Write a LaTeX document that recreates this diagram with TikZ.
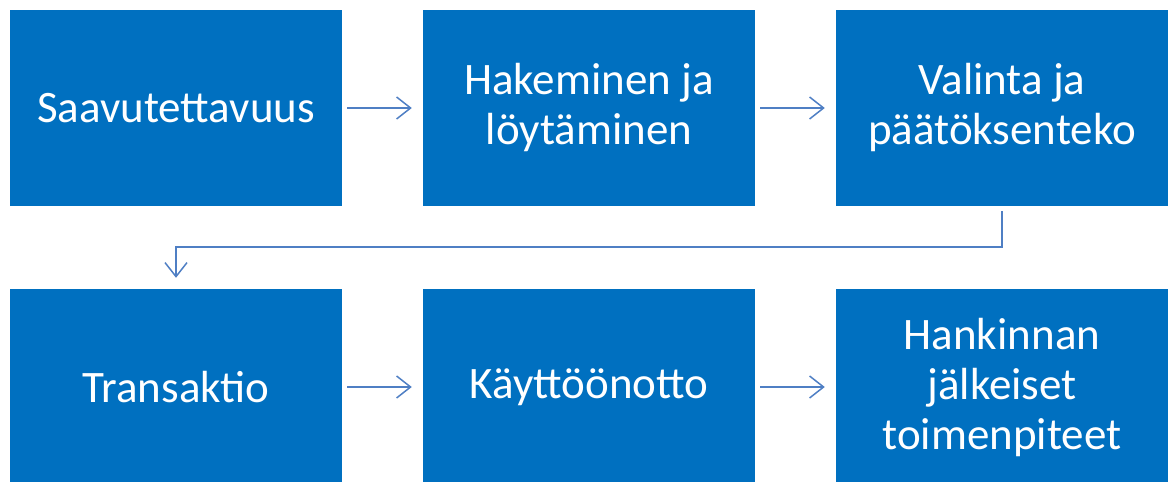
\documentclass[tikz,border=0pt]{standalone}
\usepackage{fontspec}
\setmainfont{Carlito}
\usetikzlibrary{arrows.meta}
\definecolor{boxblue}{HTML}{0070C0}
\definecolor{arrowblue}{HTML}{4F7FC4}
\begin{document}
\begin{tikzpicture}[x=1pt,y=-1pt,
  stepbox/.style={fill=boxblue,draw=none,minimum width=332pt,minimum height=196pt,inner sep=0pt,
    text=white,align=center,font=\fontsize{45pt}{50pt}\selectfont},
  conn/.style={draw=arrowblue,line width=1.5pt,-{Straight Barb[length=14pt,width=22pt,line width=1.5pt]},
    shorten <=5pt,shorten >=11pt}]
\useasboundingbox (0,0) rectangle (1171,482);
\node[stepbox] (a) at (176,108) {Saavutettavuus};
\node[stepbox] (b) at (589,108) {Hakeminen ja\\löytäminen};
\node[stepbox] (c) at (1002,108) {Valinta ja\\päätöksenteko};
\node[stepbox] (d) at (176,387) {Transaktio};
\node[stepbox] (e) at (589,387) {Käyttöönotto};
\node[stepbox] (f) at (1002,387) {Hankinnan\\jälkeiset\\toimenpiteet};
\draw[conn] (a) -- (b);
\draw[conn] (b) -- (c);
\draw[conn] (d) -- (e);
\draw[conn] (e) -- (f);
\coordinate (k1) at (1002,247);
\coordinate (k2) at (176,247);
\draw[conn] (c.south) -- (k1) -- (k2) -- (d.north);
\end{tikzpicture}
\end{document}
